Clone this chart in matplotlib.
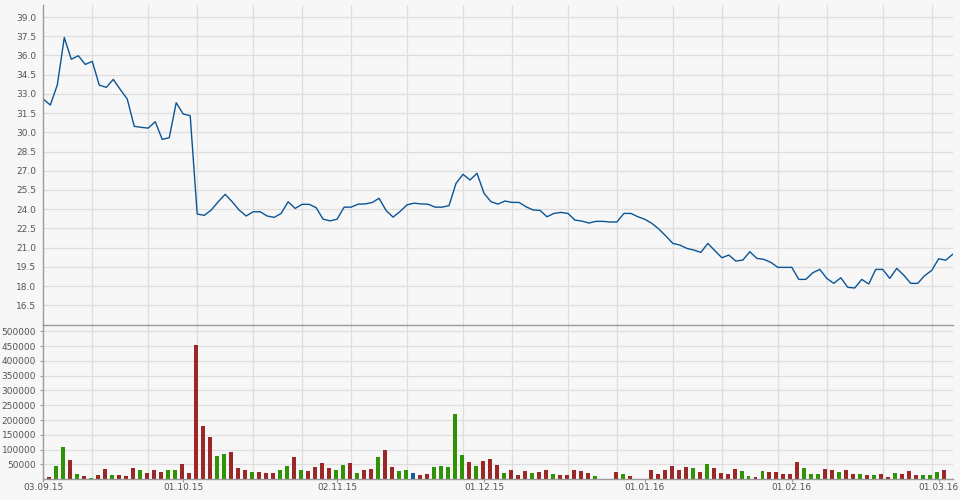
import numpy as np
import pandas as pd
import matplotlib
matplotlib.use("Agg")
import matplotlib.pyplot as plt

# ---- data -------------------------------------------------------------
start_date = "2015-09-03"
end_date = "2016-03-03"

close = [
    32.60, 32.13, 33.69, 37.40, 35.70, 35.98, 35.30, 35.54, 33.69, 33.51,
    34.13, 33.35, 32.60, 30.47, 30.39, 30.33, 30.83, 29.45, 29.58, 32.31,
    31.43, 31.30, 23.62, 23.52, 23.93, 24.58, 25.16, 24.58, 23.93, 23.47,
    23.80, 23.80, 23.47, 23.36, 23.67, 24.58, 24.06, 24.38, 24.38, 24.12,
    23.22, 23.09, 23.22, 24.16, 24.16, 24.39, 24.41, 24.52, 24.85, 23.90,
    23.38, 23.82, 24.34, 24.47, 24.41, 24.39, 24.16, 24.16, 24.28, 26.02,
    26.72, 26.28, 26.80, 25.24, 24.58, 24.40, 24.64, 24.53, 24.53, 24.19,
    23.94, 23.91, 23.41, 23.67, 23.75, 23.67, 23.15, 23.07, 22.92, 23.05,
    23.05, 23.00, 23.00, 23.67, 23.67, 23.41, 23.21, 22.89, 22.45, 21.90,
    21.33, 21.20, 20.94, 20.81, 20.63, 21.33, 20.76, 20.21, 20.42, 19.95,
    20.03, 20.68, 20.16, 20.08, 19.85, 19.46, 19.46, 19.46, 18.52, 18.52,
    19.04, 19.30, 18.60, 18.21, 18.65, 17.90, 17.85, 18.52, 18.16, 19.30,
    19.30, 18.60, 19.38, 18.85, 18.21, 18.21, 18.82, 19.22, 20.13, 20.02,
    20.48,
]

volume = [
    0, 8000, 45000, 109000, 65000, 18000, 11000, 4500, 14600, 35000,
    14600, 14600, 11300, 38000, 31500, 21000, 31500, 25000, 31500, 31500,
    52000, 21000, 454000, 180000, 143000, 79000, 86000, 92000, 38000, 31500,
    25000, 25000, 21000, 21000, 31500, 45000, 75000, 31500, 28000, 42000,
    55000, 38000, 31500, 48000, 55000, 21000, 31500, 35000, 75000, 99000,
    42000, 28000, 31500, 21000, 14600, 18000, 42000, 45000, 42000, 221000,
    82000, 59000, 45000, 62000, 69000, 48000, 21000, 31500, 14600, 28000,
    21000, 25000, 31500, 18000, 14600, 14600, 31500, 28000, 21000, 11000,
    0, 0, 25000, 18000, 11000, 0, 0, 31500, 18000, 31500,
    45000, 31500, 42000, 38000, 25000, 52000, 38000, 21000, 18000, 35000,
    28000, 11000, 8000, 28000, 25000, 25000, 18000, 18000, 59000, 38000,
    18000, 18000, 35000, 31500, 25000, 31500, 18000, 18000, 14600, 14600,
    18000, 8000, 21000, 18000, 28000, 14600, 14600, 14600, 25000, 31500,
    0,
]

# session direction per day: r = down, g = up, b = unchanged, - = none
direction = (
    "-"
    "rggrgrgrrg" "rrrgrrrggr" "rrrrggrrrg" "rrrggrgrrr" "rggrgrrgrr"
    "ggbrrggggg" "rgrrrgrrrg" "rrgrrrrrg-" "-rgr--rrrr" "rrgrgrrrrg"
    "grgrrrrrgg" "grrgrrgrgr" "rgrrrgggr-"
)

label_dates = ["2015-09-03", "2015-10-01", "2015-11-02", "2015-12-01",
               "2016-01-01", "2016-02-01", "2016-03-01"]

price_ticks = [16.5, 18.0, 19.5, 21.0, 22.5, 24.0, 25.5, 27.0, 28.5,
               30.0, 31.5, 33.0, 34.5, 36.0, 37.5, 39.0]
volume_ticks = [50000, 100000, 150000, 200000, 250000, 300000, 350000,
                400000, 450000, 500000]

# ---- styling ----------------------------------------------------------
BG = "#f7f7f7"
GRID = "#dedede"
AXIS = "#9a9a9a"
TEXT = "#555555"
LINE = "#0b5596"
COLORS = {"r": "#9b2727", "g": "#2f9305", "b": "#14599a"}
grid_days = [7, 15, 22, 30, 37, 44, 52, 60, 67, 75, 82, 90, 97, 105, 112, 120, 127]

dates = pd.bdate_range(start_date, end_date)
x = np.arange(len(dates))
tick_pos = [int(dates.get_loc(pd.Timestamp(d))) for d in label_dates]
tick_lab = [pd.Timestamp(d).strftime("%d.%m.%y") for d in label_dates]

W, H = 960, 500
left, right = 43.3, 952.7
fig = plt.figure(figsize=(W / 100, H / 100), dpi=100, facecolor=BG)
ax2 = fig.add_axes([left / W, 1 - 479.3 / H, (right - left) / W, (479.3 - 325) / H])
ax1 = fig.add_axes([left / W, 1 - 325 / H, (right - left) / W, 320 / H])
ax1.set_zorder(3)

for ax in (ax1, ax2):
    ax.patch.set_visible(False)
    ax.set_axisbelow(True)
    for s in ("top", "right"):
        ax.spines[s].set_visible(False)
    for s in ("left", "bottom"):
        ax.spines[s].set_color(AXIS)
        ax.spines[s].set_linewidth(1.0)
    ax.set_xlim(0, len(dates) - 1)
    ax.set_xticks(grid_days, minor=True)
    ax.grid(True, which="minor", axis="x", color=GRID, lw=0.9)
    ax.grid(True, which="major", axis="y", color=GRID, lw=0.9)
    ax.tick_params(which="minor", length=0)

# price
ax1.plot(x, close, color=LINE, lw=1.0)
ax1.set_ylim(14.96, 39.94)
ax1.set_yticks(price_ticks)
ax1.set_yticklabels([f"{v:.1f}" for v in price_ticks])
ax1.set_xticks([])
ax1.tick_params(axis="y", length=0, pad=5.2, labelsize=6.5, labelcolor=TEXT)

# volume
vol = np.array(volume, dtype=float)
mask = np.array([d != "-" for d in direction])
bar_cols = [COLORS[d] for d in direction if d != "-"]
ax2.bar(x[mask] - 0.19, vol[mask], width=0.57, color=bar_cols, linewidth=0)
ax2.set_ylim(0, 521000)
ax2.set_yticks(volume_ticks)
ax2.set_yticklabels([str(v) for v in volume_ticks])
ax2.set_xticks(tick_pos)
ax2.set_xticklabels(tick_lab)
ax2.tick_params(axis="y", length=2.2, width=0.8, color=AXIS, pad=3.0,
                labelsize=6.5, labelcolor=TEXT)
ax2.tick_params(axis="x", length=2.2, width=0.8, color=AXIS, pad=0.8,
                labelsize=6.5, labelcolor=TEXT)

fig.savefig("out.png", dpi=100, facecolor=BG)
